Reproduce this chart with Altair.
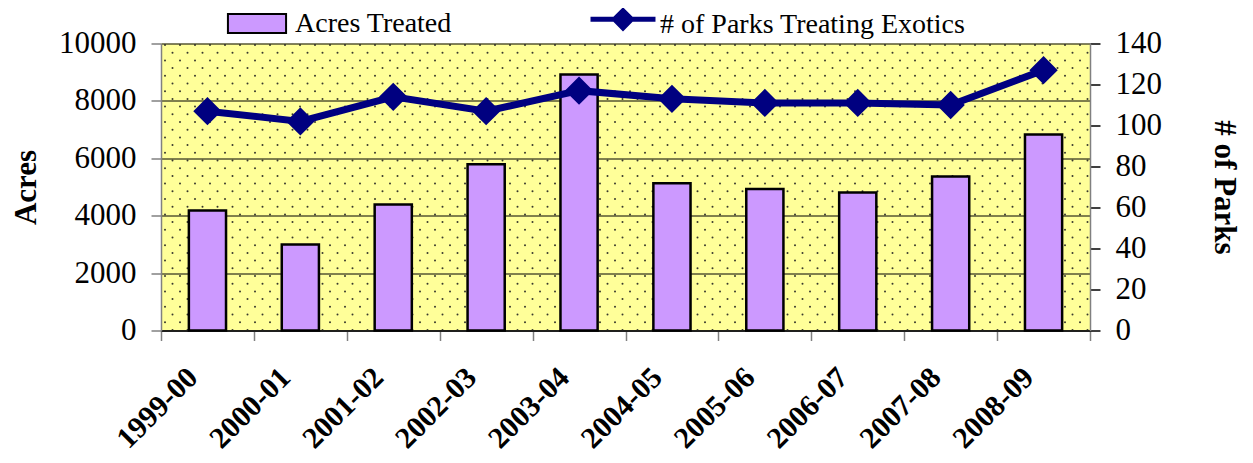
import altair as alt
import pandas as pd
import numpy as np

seasons = ["1999-00", "2000-01", "2001-02", "2002-03", "2003-04",
           "2004-05", "2005-06", "2006-07", "2007-08", "2008-09"]
acres = [4180, 3000, 4390, 5790, 8920, 5130, 4930, 4810, 5370, 6830]
parks = [107, 102, 114, 107, 117, 113, 111, 111, 110, 127]
acres_ticks = [0, 2000, 4000, 6000, 8000, 10000]
parks_ticks = [0, 20, 40, 60, 80, 100, 120, 140]

FONT = "Liberation Serif"
W, H = 929, 287

df = pd.DataFrame({
    "season": seasons, "acres": acres, "parks": parks,
    "s1": "Acres Treated", "s2": "# of Parks Treating Exotics",
})

# decorative dotted texture of the plot background
tex = []
k = 0
y = 1.5
while y < H:
    x0 = 4.0 if k % 2 == 0 else 11.5
    for x in np.arange(x0, W, 15.0):
        tex.append({"dx": float(x), "dy": float(y)})
    k += 1
    y += 7.7
tex = pd.DataFrame(tex)

dots = alt.Chart(tex).mark_circle(size=4, color="#222222", opacity=0.9).encode(
    x=alt.X("dx:Q", scale=alt.Scale(domain=[0, W], nice=False, zero=False), axis=None),
    y=alt.Y("dy:Q", scale=alt.Scale(domain=[H, 0], nice=False, zero=False), axis=None),
)

xenc = alt.X(
    "season:N", sort=seasons,
    scale=alt.Scale(paddingInner=0, paddingOuter=0),
    axis=alt.Axis(
        title=None, labelAngle=-45, labelAlign="right", labelBaseline="middle",
        labelFont=FONT, labelFontSize=30, labelFontWeight="bold", labelColor="black",
        tickBand="extent", tickSize=10, tickColor="#808080", tickWidth=1.5,
        domainColor="black", domainWidth=1.5, labelPadding=32, labelOffset=-15,
    ),
)

bar_leg_path = "M-1.53,-0.5H1.53V0.5H-1.53Z"
line_leg_path = "M-1.71,-0.3H1.71M0,-0.75L0.45,-0.3L0,0.15L-0.45,-0.3Z"

bars = alt.Chart(df).mark_bar(
    stroke="black", strokeWidth=2.5, width=alt.RelativeBandSize(0.4)
).encode(
    x=xenc,
    y=alt.Y(
        "acres:Q", scale=alt.Scale(domain=[0, 10000], nice=False),
        axis=alt.Axis(
            orient="left", values=acres_ticks, format="d", grid=True, gridColor="black", gridWidth=1,
            tickSize=10, tickColor="#808080", tickWidth=1.5, domainColor="#808080", domainWidth=1.5,
            labelFont=FONT, labelFontSize=31, labelColor="black", labelPadding=15,
            title="Acres", titleFont=FONT, titleFontSize=31, titleFontWeight="bold",
            titleColor="black", titleAngle=-90, titleX=-135, titleY=143.5,
            titleAlign="center", titleBaseline="middle",
        ),
    ),
    fill=alt.Fill(
        "s1:N", scale=alt.Scale(range=["#CC99FF"]),
        legend=alt.Legend(
            orient="none", legendX=76, legendY=-40, title=None, padding=0,
            symbolType=bar_leg_path, symbolSize=1444, symbolStrokeColor="black",
            symbolStrokeWidth=2, symbolFillColor="#CC99FF",
            labelFont=FONT, labelFontSize=28, labelColor="black", labelOffset=18, labelLimit=600,
        ),
    ),
)

line = alt.Chart(df).mark_line(
    strokeWidth=7, color="#000080",
    point=alt.OverlayMarkDef(shape="diamond", size=650, filled=True, color="#000080"),
).encode(
    x=alt.X("season:N", sort=seasons),
    y=alt.Y(
        "parks:Q", scale=alt.Scale(domain=[0, 140], nice=False),
        axis=alt.Axis(
            orient="right", values=parks_ticks, format="d", grid=False,
            tickSize=10, tickColor="black", tickWidth=1.5, domainColor="#808080", domainWidth=1.5,
            labelFont=FONT, labelFontSize=31, labelColor="black", labelPadding=15,
            title="# of Parks", titleFont=FONT, titleFontSize=31, titleFontWeight="bold",
            titleColor="black", titleAngle=90, titleX=133, titleY=143.5,
            titleAlign="center", titleBaseline="middle",
        ),
    ),
    stroke=alt.Stroke(
        "s2:N", scale=alt.Scale(range=["#000080"]),
        legend=alt.Legend(
            orient="none", legendX=440.5, legendY=-40, title=None, padding=0,
            symbolType=line_leg_path, symbolSize=1444, symbolStrokeColor="#000080",
            symbolStrokeWidth=5, symbolFillColor="#000080",
            labelFont=FONT, labelFontSize=28, labelColor="black", labelOffset=15.5, labelLimit=600,
        ),
    ),
)

inner = alt.layer(bars, line).resolve_scale(y="independent")

chart = alt.layer(dots, inner).resolve_scale(
    x="independent", y="independent"
).properties(
    width=W, height=H,
    background="white",
    padding={"left": 153, "top": 35.5, "right": 155, "bottom": 124.5},
    autosize=alt.AutoSizeParams(type="none"),
).configure_view(
    fill="#FFFF99", stroke=None,
)

chart.save("out.html", embed_options={"renderer": "svg", "actions": False})
